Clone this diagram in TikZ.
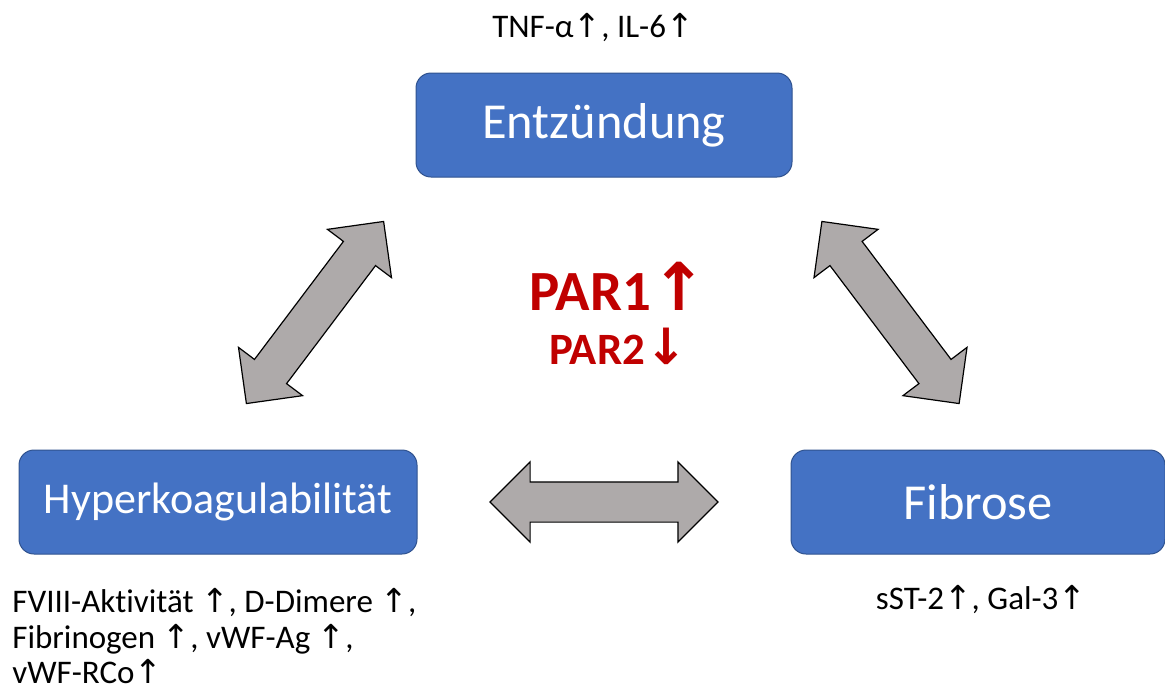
\documentclass[tikz,border=0pt]{standalone}
\usepackage{fontspec}
\setmainfont{Carlito}[RawFeature={-liga;-calt;-dlig}]
\newfontfamily\arrowfont{DejaVu Sans}
\usetikzlibrary{shapes.arrows}
\definecolor{boxblue}{HTML}{4472C4}
\definecolor{boxline}{HTML}{2F528F}
\definecolor{pargray}{HTML}{AEAAAA}
\definecolor{parred}{HTML}{C00000}
\newcommand{\hoch}{{\arrowfont\char"2191}}
\newcommand{\runter}{{\arrowfont\char"2193}}

\begin{document}
\begin{tikzpicture}[x=0.5pt, y=-0.5pt,
    kasten/.style={draw=boxline, line width=0.5pt, fill=boxblue, rounded corners=7.5pt,
      minimum width=188pt, minimum height=52pt, text=white, inner sep=0pt},
    wechsel/.style={double arrow, draw=black, line width=0.6pt, fill=pargray,
      minimum height=114pt, inner xsep=0pt, inner ysep=9.75pt,
      double arrow head extend=10pt},
    marker/.style={font=\fontsize{16.5}{17.75}\selectfont, inner sep=0pt}]
    \useasboundingbox (0,0) rectangle (1165,691);

    % die drei Kaesten
    \node[kasten, font=\fontsize{25.2}{27}\selectfont] (ent) at (604,125) {Entzündung};
    \node[kasten, minimum width=199pt, font=\fontsize{22}{24}\selectfont] (hyp) at (218,502) {Hyperkoagulabilität};
    \node[kasten, minimum width=187pt, font=\fontsize{25.2}{27}\selectfont] (fib) at (978,502) {Fibrose};

    % Marker
    \node[marker] (tnf) at (593,28) {TNF-α\hoch, IL-6\hoch};
    \node[marker] (sst) at (981,600) {sST-2\hoch, Gal-3\hoch};
    \node[marker, anchor=north west, align=left] (fviii) at (12,588)
      {FVIII-Aktivität \hoch, D-Dimere \hoch,\\
       Fibrinogen \hoch, vWF-Ag \hoch,\\
       vWF-RCo\hoch};

    % PAR in der Mitte
    \node[text=parred, font=\bfseries\fontsize{28.4}{30}\selectfont, inner sep=0pt] (par1) at (618,286)
      {PAR1{\fontsize{33}{33}\selectfont\hoch}};
    \node[text=parred, font=\bfseries\fontsize{22.4}{24}\selectfont, inner sep=0pt] (par2) at (618,346)
      {PAR2{\fontsize{25}{25}\selectfont\runter}};

    % Wechselwirkungen
    \node[wechsel, rotate=53] (eh) at (315,312.5) {};
    \node[wechsel, rotate=-53] (ef) at (890.5,312.5) {};
    \node[wechsel] (hf) at (604,502) {};

\end{tikzpicture}
\end{document}
